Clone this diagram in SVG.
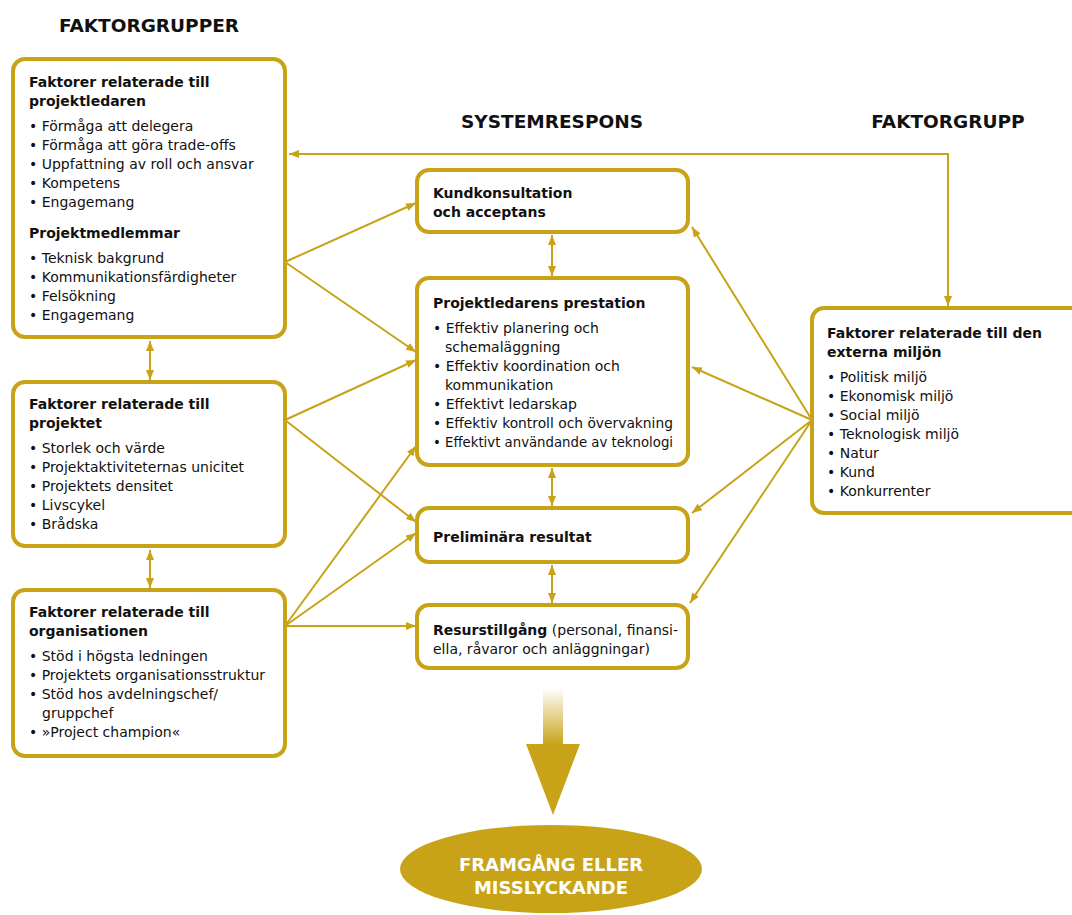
<svg xmlns="http://www.w3.org/2000/svg" width="1072" height="915" viewBox="0 0 1072 915">
<defs>
<style>
.box{fill:#fff;stroke:#C8A318;stroke-width:4}
.c{fill:none;stroke:#C8A318;stroke-width:2;marker-end:url(#ah)}
.d{fill:none;stroke:#C8A318;stroke-width:2;marker-end:url(#ah);marker-start:url(#ah)}
text{font-family:"DejaVu Sans",Verdana,sans-serif;font-size:14px;fill:#111}
.b{font-weight:bold}
.h{font-weight:bold;font-size:18.5px;text-anchor:middle}
.w{fill:#fff;font-weight:bold;font-size:18px;text-anchor:middle}
</style>
<marker id="ah" viewBox="0 0 10 8" refX="10" refY="4" markerWidth="10" markerHeight="8" markerUnits="userSpaceOnUse" orient="auto-start-reverse">
<path d="M0,0 L10,4 L0,8 z" fill="#C8A318"/>
</marker>
<linearGradient id="g" x1="0" y1="0" x2="0" y2="1">
<stop offset="0" stop-color="#C8A318" stop-opacity="0"/>
<stop offset="0.45" stop-color="#C8A318" stop-opacity="1"/>
</linearGradient>
</defs>
<rect width="1072" height="915" fill="#fff"/>
<text class="h" x="149" y="32">FAKTORGRUPPER</text>
<text class="h" x="552" y="128">SYSTEMRESPONS</text>
<text class="h" x="948" y="128">FAKTORGRUPP</text>

<g id="connectors">
<path class="d" d="M948,306 V154 H289"/>
<path class="c" d="M285,262 L416,203"/>
<path class="c" d="M285,262 L416,352"/>
<path class="c" d="M285,420 L416,360"/>
<path class="c" d="M285,420 L416,522"/>
<path class="c" d="M285,626 L416,446"/>
<path class="c" d="M285,626 L416,533"/>
<path class="c" d="M285,626 L416,626"/>
<path class="c" d="M812,420 L692,227"/>
<path class="c" d="M812,420 L692,367"/>
<path class="c" d="M812,420 L692,513"/>
<path class="c" d="M812,420 L690,603"/>
<path class="d" d="M150,341 V380"/>
<path class="d" d="M150,550 V588"/>
<path class="d" d="M552,235 V276"/>
<path class="d" d="M552,468 V506"/>
<path class="d" d="M552,565 V603"/>
</g>

<g id="n-projektledaren">
<rect class="box" x="13" y="59" width="272" height="278" rx="12"/>
<text class="b" x="29" y="87">Faktorer relaterade till</text>
<text class="b" x="29" y="106">projektledaren</text>
<text x="29" y="131">• Förmåga att delegera</text>
<text x="29" y="150">• Förmåga att göra trade-offs</text>
<text x="29" y="169">• Uppfattning av roll och ansvar</text>
<text x="29" y="188">• Kompetens</text>
<text x="29" y="207">• Engagemang</text>
<text class="b" x="29" y="238">Projektmedlemmar</text>
<text x="29" y="263">• Teknisk bakgrund</text>
<text x="29" y="282">• Kommunikationsfärdigheter</text>
<text x="29" y="301">• Felsökning</text>
<text x="29" y="320">• Engagemang</text>
</g>

<g id="n-projektet">
<rect class="box" x="13" y="382" width="272" height="164" rx="12"/>
<text class="b" x="29" y="409">Faktorer relaterade till</text>
<text class="b" x="29" y="428">projektet</text>
<text x="29" y="453">• Storlek och värde</text>
<text x="29" y="472">• Projektaktiviteternas unicitet</text>
<text x="29" y="491">• Projektets densitet</text>
<text x="29" y="510">• Livscykel</text>
<text x="29" y="529">• Brådska</text>
</g>

<g id="n-organisationen">
<rect class="box" x="13" y="590" width="272" height="166" rx="12"/>
<text class="b" x="29" y="617">Faktorer relaterade till</text>
<text class="b" x="29" y="636">organisationen</text>
<text x="29" y="661">• Stöd i högsta ledningen</text>
<text x="29" y="680" textLength="236" lengthAdjust="spacingAndGlyphs">• Projektets organisationsstruktur</text>
<text x="29" y="699">• Stöd hos avdelningschef/</text>
<text x="42" y="718">gruppchef</text>
<text x="29" y="737">• »Project champion«</text>
</g>

<g id="n-kund">
<rect class="box" x="417" y="170" width="271" height="62" rx="12"/>
<text class="b" x="433" y="198">Kundkonsultation</text>
<text class="b" x="433" y="217">och acceptans</text>
</g>

<g id="n-prestation">
<rect class="box" x="417" y="278" width="271" height="187" rx="12"/>
<text class="b" x="433" y="308">Projektledarens prestation</text>
<text x="433" y="333">• Effektiv planering och</text>
<text x="445" y="352">schemaläggning</text>
<text x="433" y="371">• Effektiv koordination och</text>
<text x="445" y="390">kommunikation</text>
<text x="433" y="409">• Effektivt ledarskap</text>
<text x="433" y="428" textLength="240" lengthAdjust="spacingAndGlyphs">• Effektiv kontroll och övervakning</text>
<text x="433" y="447" textLength="240" lengthAdjust="spacingAndGlyphs">• Effektivt användande av teknologi</text>
</g>

<g id="n-preliminara">
<rect class="box" x="417" y="508" width="271" height="54" rx="12"/>
<text class="b" x="433" y="542">Preliminära resultat</text>
</g>

<g id="n-resurs">
<rect class="box" x="417" y="605" width="271" height="63" rx="12"/>
<text x="433" y="635"><tspan class="b">Resurstillgång</tspan> (personal, finansi-</text>
<text x="433" y="654">ella, råvaror och anläggningar)</text>
</g>

<g id="n-extern">
<rect class="box" x="812" y="308" width="272" height="205" rx="12"/>
<text class="b" x="827" y="338">Faktorer relaterade till den</text>
<text class="b" x="827" y="357">externa miljön</text>
<text x="827" y="382">• Politisk miljö</text>
<text x="827" y="401">• Ekonomisk miljö</text>
<text x="827" y="420">• Social miljö</text>
<text x="827" y="439">• Teknologisk miljö</text>
<text x="827" y="458">• Natur</text>
<text x="827" y="477">• Kund</text>
<text x="827" y="496">• Konkurrenter</text>
</g>

<g id="big-arrow">
<path d="M543,688 H563 V744 H580 L553,815 L526,744 H543 Z" fill="url(#g)"/>
</g>

<g id="n-result">
<ellipse cx="551" cy="869" rx="151" ry="44" fill="#C8A318"/>
<text class="w" x="551" y="871">FRAMGÅNG ELLER</text>
<text class="w" x="551" y="894">MISSLYCKANDE</text>
</g>
</svg>
